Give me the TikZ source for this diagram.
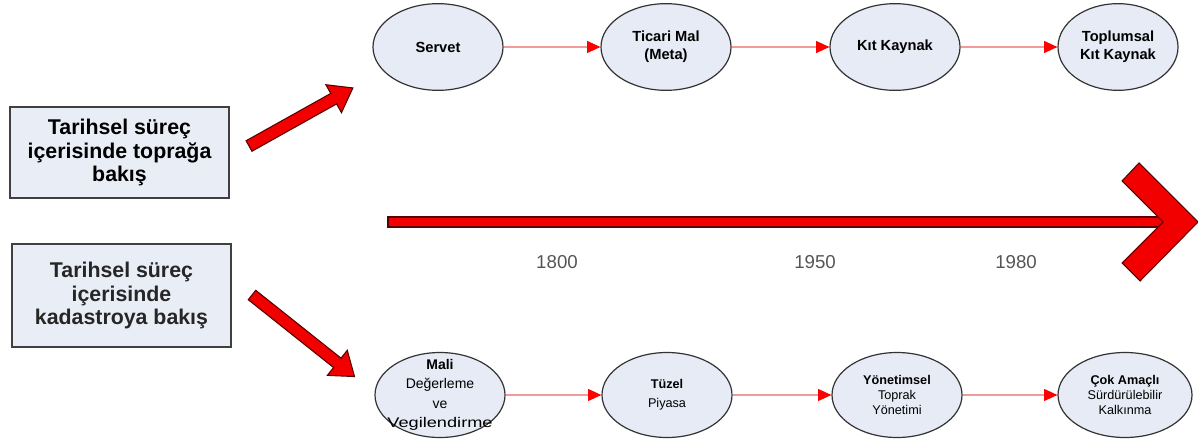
\documentclass[tikz,border=0pt]{standalone}
\usepackage{fontspec}
\usepackage{graphicx}
\setmainfont{Liberation Sans}
\usetikzlibrary{shapes.geometric,arrows.meta}
\definecolor{boxfill}{HTML}{E9EDF5}
\definecolor{ellfill}{HTML}{E6EBF5}
\definecolor{bigred}{HTML}{F20000}
\definecolor{darkred}{HTML}{5A0000}
\definecolor{linkred}{HTML}{F29A9A}
\definecolor{yeargrey}{HTML}{555555}
\begin{document}
\begin{tikzpicture}[x=0.75pt,y=-0.75pt,
  titlebox/.style={draw=black!75, line width=0.9pt, fill=boxfill, align=center,
    font=\fontsize{16}{17.5}\selectfont\bfseries, inner sep=0pt},
  stage/.style={ellipse, draw=black!80, line width=0.9pt, fill=ellfill,
    minimum width=97.5pt, minimum height=65pt, inner sep=0pt, align=center},
  topstage/.style={stage, font=\fontsize{11}{13.5}\selectfont\bfseries},
  botstage/.style={stage, minimum height=63.75pt, font=\fontsize{9.5}{11}\selectfont},
  stagetext/.style={align=center, inner sep=0pt},
  link/.style={draw=linkred, line width=0.8pt,
    -{Triangle[length=10pt,width=9pt,fill=red,color=red]}},
  bigarrow/.style={fill=bigred, draw=darkred, line width=0.8pt, line join=miter},
  year/.style={text=yeargrey, font=\fontsize{14}{16}\selectfont}]
\useasboundingbox (0,0) rectangle (1198,446);

% left title boxes
\node[titlebox, minimum width=164.25pt, minimum height=68.25pt] (box1) at (119.5,152.5)
  {Tarihsel süreç\\içerisinde toprağa\\bakış};
\node[titlebox, text=black!85, minimum width=164.25pt, minimum height=77.25pt] (box2) at (121.5,295.5)
  {Tarihsel süreç\\içerisinde\\kadastroya bakış};

% diagonal arrows
\begin{scope}[shift={(249,146)}, rotate=29.2]
  \draw[bigarrow] (0,-6) -- (97,-6) -- (97,-16) -- (119,0) -- (97,16) -- (97,6) -- (0,6) -- cycle;
\end{scope}
\begin{scope}[shift={(252,295)}, rotate=-38.5]
  \draw[bigarrow] (0,-6) -- (109,-6) -- (109,-16) -- (131,0) -- (109,16) -- (109,6) -- (0,6) -- cycle;
\end{scope}

% top stages
\node[topstage] (s1) at (438,47) {Servet};
\node[topstage] (s2) at (666,47) {Ticari Mal\\(Meta)};
\node[topstage] (s3) at (895,47) {Kıt Kaynak};
\node[topstage, minimum width=90pt] (s4) at (1118,47) {Toplumsal\\Kıt Kaynak};
\draw[link] (s1.east) -- (s2.west);
\draw[link] (s2.east) -- (s3.west);
\draw[link] (s3.east) -- (s4.west);

% bottom stages
\node[botstage] (b1) at (440,395) {};
\node[stagetext, font=\fontsize{10.5}{14.5}\selectfont] (b1t) at (b1.center)
  {\textbf{Mali}\\Değerleme\\ve\\\scalebox{1.3}[1]{Vegilendirme}};
\node[botstage] (b2) at (667,395) {\textbf{Tüzel}\\[3pt]Piyasa};
\node[botstage] (b3) at (897,395) {\textbf{Yönetimsel}\\Toprak\\Yönetimi};
\node[botstage, minimum width=100.5pt] (b4) at (1125,395) {\textbf{Çok Amaçlı}\\Sürdürülebilir\\Kalkınma};
\draw[link] (b1.east) -- (b2.west);
\draw[link] (b2.east) -- (b3.west);
\draw[link] (b3.east) -- (b4.west);

% timeline
\coordinate (tlstart) at (388,222);
\coordinate (tlend) at (1166,222);
\draw[bigarrow] ([yshift=3.75pt]tlstart) rectangle ([yshift=-3.75pt]tlend);
\draw[bigarrow] (1139,163) -- (1198,222) -- (1140,281) -- (1122,263) -- (1163,222) -- (1122,181) -- cycle;
\node[year] (y1) at (557,262) {1800};
\node[year] (y2) at (815,262) {1950};
\node[year] (y3) at (1016,262) {1980};
\end{tikzpicture}
\end{document}
